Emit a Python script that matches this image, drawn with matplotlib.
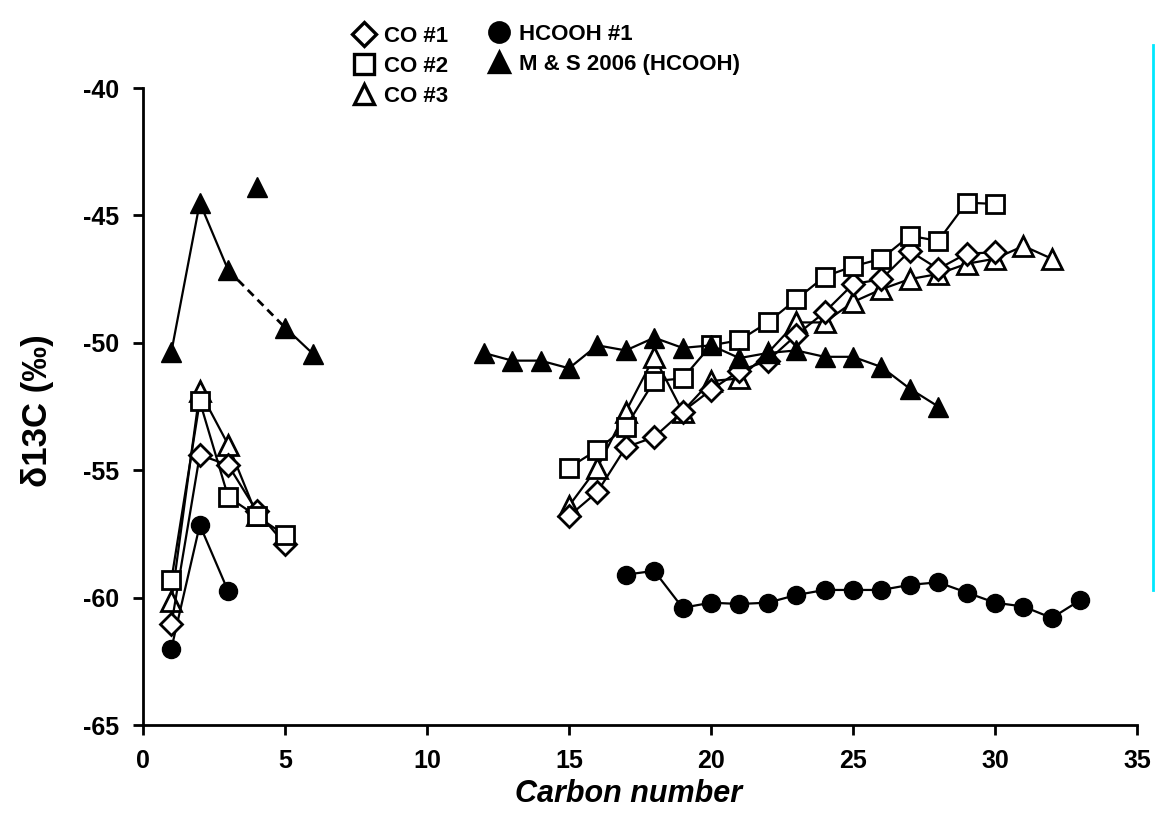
import matplotlib
matplotlib.use('Agg')
import matplotlib.pyplot as plt
from matplotlib.lines import Line2D

plt.rcParams['font.family'] = ['Liberation Sans', 'DejaVu Sans']
plt.rcParams['axes.unicode_minus'] = False

# --- data: left (C1-C6) and right (C12-C33) groups ---
co1_lx = [1, 2, 3, 4, 5]
co1_ly = [-61.05, -54.4, -54.8, -56.6, -57.9]
co1_rx = list(range(15, 31))
co1_ry = [-56.8, -55.85, -54.1, -53.7, -52.7, -51.85, -51.1, -50.7,
          -49.7, -48.8, -47.7, -47.5, -46.4, -47.1, -46.5, -46.45]

co2_lx = [1, 2, 3, 4, 5]
co2_ly = [-59.3, -52.3, -56.05, -56.8, -57.55]
co2_rx = list(range(15, 31))
co2_ry = [-54.9, -54.2, -53.3, -51.5, -51.4, -50.1, -49.9, -49.2,
          -48.3, -47.4, -47.0, -46.7, -45.8, -46.0, -44.5, -44.55]

co3_lx = [1, 2, 3, 4]
co3_ly = [-60.15, -51.9, -54.0, -56.75]
co3_rx = list(range(15, 33))
co3_ry = [-56.4, -54.9, -52.7, -50.55, -52.7, -51.5, -51.4, -50.4, -49.2,
          -49.2, -48.4, -47.9, -47.5, -47.3, -46.9, -46.7, -46.2, -46.7]

hc_lx = [1, 2, 3]
hc_ly = [-62.0, -57.15, -59.75]
hc_rx = list(range(17, 34))
hc_ry = [-59.1, -58.95, -60.4, -60.2, -60.25, -60.2, -59.9, -59.7, -59.7,
         -59.7, -59.5, -59.4, -59.8, -60.2, -60.35, -60.8, -60.1]

# M & S 2006: C1-C3 solid, C3-C5 dashed, C5-C6 solid, C4 unconnected
ms_ax = [1, 2, 3]
ms_ay = [-50.35, -44.5, -47.15]
ms_bx = [5, 6]
ms_by = [-49.4, -50.45]
ms_cx = [4]
ms_cy = [-43.9]
ms_rx = list(range(12, 29))
ms_ry = [-50.4, -50.7, -50.7, -51.0, -50.1, -50.3, -49.8, -50.2, -50.1,
         -50.6, -50.4, -50.3, -50.55, -50.55, -50.95, -51.8, -52.5]

fig = plt.figure(figsize=(11.55, 8.22), dpi=100)
ax = fig.add_axes([143/1155, 97/822, (1137-143)/1155, (725-88)/822])

lw = 1.6
mew = 2.0
open_kw = dict(color='black', lw=lw, mfc='white', mec='black', mew=mew)

ax.plot(hc_lx, hc_ly, marker='o', ms=13, color='black', lw=lw, zorder=3)
ax.plot(hc_rx, hc_ry, marker='o', ms=13, color='black', lw=lw, zorder=3)

ax.plot(co3_lx, co3_ly, marker='^', ms=14, zorder=4, **open_kw)
ax.plot(co3_rx, co3_ry, marker='^', ms=14, zorder=4, **open_kw)
ax.plot(co1_lx, co1_ly, marker='D', ms=11, zorder=4, **open_kw)
ax.plot(co1_rx, co1_ry, marker='D', ms=11, zorder=4, **open_kw)
ax.plot(co2_lx, co2_ly, marker='s', ms=12.5, zorder=4, **open_kw)
ax.plot(co2_rx, co2_ry, marker='s', ms=12.5, zorder=4, **open_kw)

ms_kw = dict(marker='^', ms=14, color='black', lw=lw, zorder=5)
ax.plot(ms_ax, ms_ay, **ms_kw)
ax.plot([ms_ax[-1], ms_bx[0]], [ms_ay[-1], ms_by[0]], color='black',
        lw=lw + 0.4, ls=(0, (3, 2)), zorder=2)
ax.plot(ms_bx, ms_by, **ms_kw)
ax.plot(ms_cx, ms_cy, ls='none', marker='^', ms=14, color='black', zorder=5)
ax.plot(ms_rx, ms_ry, **ms_kw)

ax.set_xlim(0, 35)
ax.set_ylim(-65, -40)
ax.set_xticks(range(0, 36, 5))
ax.set_yticks(range(-65, -39, 5))
for s in ('top', 'right'):
    ax.spines[s].set_visible(False)
for s in ('left', 'bottom'):
    ax.spines[s].set_linewidth(2)
ax.tick_params(direction='out', length=7.5, width=2, labelsize=18, pad=10)
for t in ax.get_xticklabels() + ax.get_yticklabels():
    t.set_fontweight('bold')

ax.set_xlabel('Carbon number', fontsize=22, fontweight='bold',
              fontstyle='italic')
ax.xaxis.set_label_coords(0.488, -0.084)
ax.set_ylabel('δ13C (‰)', fontsize=25, fontweight='bold')
ax.yaxis.set_label_coords(-0.09, 0.493)

# legend, two columns
def h(marker, fill, ms):
    return Line2D([], [], ls='none', marker=marker, ms=ms, mfc=fill,
                  mec='black', mew=2.4)

leg_kw = dict(frameon=False, handlelength=1.0, handletextpad=0.4,
              labelspacing=0.4, borderpad=0,
              prop=dict(weight='bold', size=16))
leg1 = fig.legend([h('D', 'white', 12), h('s', 'white', 14), h('^', 'white', 14)],
                  ['CO #1', 'CO #2', 'CO #3'], loc='upper left',
                  bbox_to_anchor=(342/1155, 1 - 15/822), **leg_kw)
leg2 = fig.legend([h('o', 'black', 14), h('^', 'black', 15)],
                  ['HCOOH #1', 'M & S 2006 (HCOOH)'], loc='upper left',
                  bbox_to_anchor=(477/1155, 1 - 13/822), **leg_kw)

# thin cyan line at the right edge
fig.add_artist(Line2D([1153/1155, 1153/1155], [1 - 45/822, 1 - 590/822],
                      color='#00E8FF', lw=2))

fig.savefig('out.png', dpi=100, facecolor='white')
